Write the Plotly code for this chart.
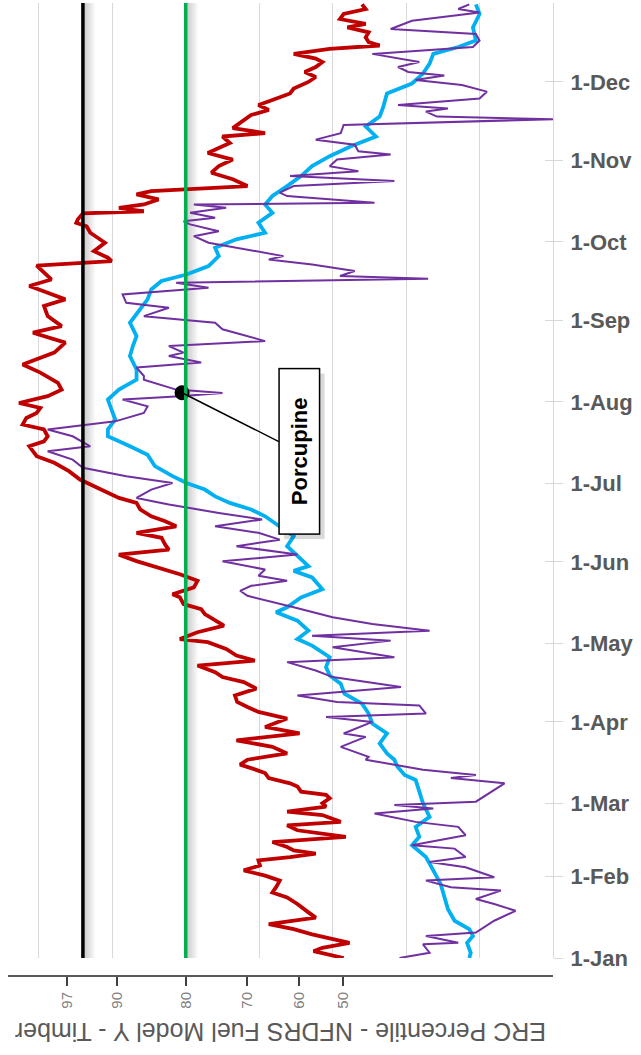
import pandas as pd
import plotly.graph_objects as go

# ---------------- data ----------------
BASE = pd.Timestamp("2021-01-01")

red_days = [0, 2.6, 3.9, 5.8, 9.0, 11.0, 12.9, 15.4, 17.4, 20.6, 23.1, 25.0, 27.0, 29.5, 31.4, 33.4, 35.3, 37.2,
            38.5, 39.8, 41.0, 42.3, 44.2, 46.2, 48.7, 50.6, 51.9, 54.5, 55.8, 57.7, 59.0, 60.9, 62.2, 63.4, 65.4,
            66.6, 68.6, 70.5, 72.4, 73.7, 75.6, 78.0, 80.5, 83.0, 85.6, 88.1, 91.3, 93.8, 95.7, 97.6, 100.1, 102.7,
            105.2, 107.1, 109.0, 111.5, 113.4, 115.3, 117.8, 120.4, 121.6, 124.2, 126.7, 128.6, 131.1, 133.0, 134.9,
            137.5, 138.7, 141.3, 143.8, 146.3, 148.7, 151.3, 153.8, 155.7, 157.6, 160.2, 162.1, 164.6, 166.5, 168.4,
            171.0, 173.5, 175.4, 178.0, 179.9, 182.4, 185.6, 188.8, 191.3, 193.2, 195.1, 197.0, 198.9, 201.5, 203.4,
            205.9, 207.8, 209.7, 211.6, 214.2, 216.7, 219.3, 223.2, 226.3, 230.8, 234.6, 238.4, 240.9, 244.7, 248.6,
            251.1, 253.6, 256.2, 258.7, 261.3, 264.0, 265.7, 267.0, 269.5, 272.7, 276.5, 279.0, 280.3, 281.6, 283.9,
            284.7, 286.0, 287.3, 289.2, 291.1, 292.4, 294.3, 296.9, 299.4, 301.9, 304.4, 306.9, 310.7, 313.2, 314.5,
            316.4, 318.3, 321.4, 323.3, 325.2, 327.1, 329.6, 331.5, 334.0, 335.9, 337.8, 339.7, 341.6, 342.9, 344.7,
            346.6, 347.9, 349.2, 351.0, 352.9, 354.8, 356.1, 358.0, 359.9, 361.8, 363.6]
red_erc = [28.5, 32.6, 31.4, 27.7, 32.8, 35.3, 38.7, 32.3, 33.3, 34.8, 36.2, 38.2, 37.7, 37.2, 39.2, 42.1, 39.9, 40.1,
           35.8, 32.3, 35.3, 36.2, 38.2, 28.2, 34.8, 36.2, 28.9, 31.4, 36.2, 30.9, 31.4, 30.4, 30.9, 34.3, 34.8,
           35.8, 38.7, 39.2, 41.1, 42.6, 41.6, 36.2, 38.2, 43.1, 34.5, 39.2, 36.2, 40.1, 41.6, 43.0, 43.3, 40.4,
           42.1, 45.0, 46.0, 48.4, 40.6, 43.1, 44.5, 47.0, 50.8, 48.4, 44.8, 46.0, 47.4, 47.9, 50.3,
           50.8, 51.8, 48.9, 48.4, 50.8, 53.7, 56.7, 59.1, 52.3, 52.8, 53.3, 56.7, 51.3, 52.8, 54.7,
           56.2, 56.7, 59.1, 61.0, 62.5, 64.4, 65.9, 67.9, 70.3, 70.8, 71.3, 69.3, 68.8, 69.3, 72.2,
           71.7, 70.3, 69.8, 72.7, 68.8, 66.9, 67.4, 69.8, 72.2, 67.9, 66.4, 70.8, 66.9, 68.8, 69.3,
           66.4, 68.8, 71.3, 68.3, 69.3, 70.3, 60.1, 60.6, 62.5, 61.0, 63.0, 63.5, 64.9, 64.7, 64.0,
           55.7, 59.1, 55.7, 53.7, 56.7, 54.7, 41.6, 43.6, 46.5, 45.5, 43.6, 47.0, 44.0, 45.0, 39.2,
           43.6, 42.6, 41.1, 38.7, 40.1, 38.2, 35.8, 35.3, 33.3, 32.3, 33.8, 32.3, 31.4, 32.3, 35.3,
           30.4, 23.6, 25.1, 25.5, 25.1, 28.0, 25.5, 29.0, 28.5, 25.5, 26.0]

cyan_days = [0, 2.0, 5.8, 8.4, 11.0, 14.2, 18.6, 23.1, 28.2, 33.4, 38.5, 43.0, 46.2, 50.0, 53.8, 59.0, 64.1, 67.9,
             69.8, 73.0, 75.6, 78.0, 81.8, 85.6, 89.4, 93.2, 97.0, 100.8, 104.6, 107.7, 110.9, 114.7, 119.1, 121.6,
             124.8, 128.6, 131.8, 133.7, 137.5, 140.6, 145.1, 147.6, 149.4, 153.2, 157.0, 160.8, 164.6, 168.4, 171.0,
             173.5, 176.0, 178.6, 181.1, 183.7, 187.5, 191.9, 195.1, 198.9, 201.5, 205.3, 209.1, 212.9, 216.7, 220.5,
             224.4, 229.5, 233.3, 237.1, 242.2, 247.3, 251.1, 254.9, 258.1, 260.6, 263.8, 267.6, 270.8, 274.0, 276.5,
             280.3, 284.1, 287.3, 290.5, 294.3, 298.1, 301.9, 305.7, 309.5, 313.2, 317.0, 320.8, 324.6, 329.6, 333.4,
             337.2, 341.0, 344.7, 347.3, 349.8, 354.8, 359.9, 363.6]
cyan_erc = [11.4, 11.2, 11.7, 10.9, 11.4, 13.4, 14.3, 14.8, 15.3, 16.3, 17.3, 19.2, 18.2, 18.7, 16.8, 17.7, 18.2, 18.7,
            20.2, 21.2, 21.6, 22.6, 23.6, 22.6, 24.6, 25.1, 26.0, 28.4, 28.9, 30.4, 30.9, 30.4, 32.8, 34.8,
            33.3, 34.8, 37.7, 36.2, 34.3, 31.4, 32.8, 35.3, 33.3, 34.8, 36.2, 35.3, 37.2, 39.2, 41.1,
            44.0, 46.0, 47.4, 49.9, 51.8, 54.2, 55.2, 57.6, 60.6, 60.6, 59.6, 60.1, 60.6, 59.1, 56.7,
            56.7, 57.6, 57.2, 56.7, 57.6, 56.2, 55.2, 54.7, 53.3, 49.9, 46.9, 45.5, 46.0, 43.1, 39.2,
            40.1, 38.2, 39.2, 38.2, 36.2, 34.3, 32.8, 30.4, 27.5, 24.1, 25.5, 23.6, 23.1, 22.6, 19.2,
            17.7, 16.8, 16.3, 12.9, 10.5, 10.9, 10.0, 10.5]

purple_days = [0, 2.0, 5.2, 5.8, 8.4, 9.7, 14.2, 18.0, 20.6, 22.5, 25.7, 27.0, 29.5, 30.8, 34.6, 36.6, 38.5, 41.7,
               43.0, 46.8, 50.0, 51.9, 55.1, 57.0, 58.3, 59.6, 66.6, 68.6, 69.8, 71.8, 75.6, 76.7, 80.5, 84.3, 85.6,
               90.0, 91.9, 93.2, 96.3, 97.6, 100.1, 103.3, 107.1, 109.6, 112.8, 114.7, 118.5, 121.0, 122.9, 124.8,
               127.3, 129.9, 133.7, 136.2, 138.1, 140.0, 141.9, 143.8, 145.7, 148.1, 151.3, 153.8, 157.0, 159.5,
               162.1, 164.6, 167.2, 169.7, 172.9, 175.4, 178.6, 181.1, 183.7, 186.9, 190.0, 193.2, 195.1, 198.9,
               201.5, 204.6, 207.8, 210.3, 212.9, 214.2, 215.4, 216.7, 220.5, 221.9, 225.1, 227.0, 229.5, 230.8,
               233.3, 235.2, 237.1, 239.7, 242.2, 244.7, 247.9, 249.8, 253.0, 255.5, 257.4, 259.0, 260.0, 261.9,
               264.4, 266.3, 267.6, 270.1, 272.7, 275.2, 277.1, 279.7, 280.9, 282.2, 284.1, 286.0, 287.3, 287.9,
               290.5, 291.8, 294.3, 296.2, 298.1, 300.0, 301.9, 304.4, 306.3, 307.6, 310.1, 312.0, 314.5, 317.6,
               319.8, 320.8, 322.7, 323.9, 325.2, 327.7, 330.3, 332.8, 334.7, 336.5, 337.8, 339.7, 341.6, 344.7,
               347.3, 349.8, 352.3, 354.2, 357.3, 360.5, 361.8, 363.6]
purple_erc = [20.9, 16.8, 17.7, 12.9, 17.3, 10.5, 8.0, 5.1, 8.0, 10.5, 7.1, 13.9, 17.3, 8.0, 11.9, 16.8, 11.9, 13.4,
              19.2, 11.9, 12.9, 18.7, 24.3, 16.3, 21.6, 10.5, 6.6, 13.9, 10.5, 17.7, 25.5, 25.1, 28.9, 25.5, 28.5,
              24.6, 30.9, 17.3, 18.2, 29.4, 34.8, 20.7, 30.0, 32.3, 36.2, 21.6, 30.0, 22.1, 32.8, 16.8,
              24.6, 30.0, 35.3, 38.7, 41.6, 42.6, 41.1, 36.2, 40.1, 39.2, 45.0, 34.8, 43.1, 37.2,
              40.1, 46.0, 39.6, 45.5, 52.3, 56.7, 54.7, 51.8, 58.1, 64.0, 65.4, 68.8, 63.0, 65.4,
              68.8, 59.6, 55.7, 55.2, 58.6, 50.8, 45.0, 51.3, 55.7, 55.7, 56.7, 47.9, 52.3, 50.3,
              52.3, 39.2, 41.6, 45.0, 46.0, 55.7, 52.3, 58.1, 58.6, 46.9, 51.3, 17.0, 29.0, 27.0,
              32.8, 38.7, 36.7, 41.6, 46.9, 48.9, 45.5, 49.4, 50.3, 46.0, 49.4, 44.5, 48.9, 24.3,
              36.2, 37.2, 35.3, 21.6, 35.8, 26.5, 30.4, 29.4, 22.1, 26.5, 27.0, 32.3, 28.9, 28.5,
              0.0, 15.8, 17.3, 14.3, 21.1, 10.0, 9.0, 12.4, 18.7, 14.8, 19.7, 21.1, 18.2, 24.6,
              10.9, 10.0, 10.5, 22.1, 19.2, 10.0, 12.9, 11.4]

# reference lines (ERC) and percentile axis
erc_97th = 64.0
erc_80th = 50.0
pct_labels = ["97", "90", "80", "70", "60", "50"]
pct_erc = [66.2, 59.4, 50.0, 41.6, 34.6, 28.6]

fire_name = "Porcupine"
fire_day = 215.5
fire_erc = 50.5

month_starts = pd.date_range("2021-01-01", "2021-12-01", freq="MS")


def to_dates(days):
    return [BASE + pd.Timedelta(days=d) for d in days]


# ---------------- figure ----------------
X_RANGE = [74.2, 0]
Y_RANGE = [BASE, BASE + pd.Timedelta(days=364.1)]
PX_PER_ERC = 545 / 74.2

fig = go.Figure()

fig.add_trace(go.Scatter(x=cyan_erc, y=to_dates(cyan_days), mode="lines",
                         line=dict(color="#00b0f0", width=3.8), showlegend=False, hoverinfo="skip"))
fig.add_trace(go.Scatter(x=red_erc, y=to_dates(red_days), mode="lines",
                         line=dict(color="#c00000", width=3.8), showlegend=False, hoverinfo="skip"))
fig.add_trace(go.Scatter(x=purple_erc, y=to_dates(purple_days), mode="lines",
                         line=dict(color="#7030a0", width=2), showlegend=False, hoverinfo="skip"))
fig.add_trace(go.Scatter(x=[fire_erc], y=to_dates([fire_day]), mode="markers",
                         marker=dict(color="black", size=15), showlegend=False, hoverinfo="skip"))
# helper traces so the extra axes get drawn
fig.add_trace(go.Scatter(x=[None], y=[None], xaxis="x2", yaxis="y", showlegend=False, hoverinfo="skip"))
fig.add_trace(go.Scatter(x=[None], y=[None], xaxis="x", yaxis="y2", showlegend=False, hoverinfo="skip"))

shapes = []
for val, col in [(erc_97th, "black"), (erc_80th, "#00b050")]:
    for k in range(6):
        w = (2 + 2 * k) / PX_PER_ERC
        shapes.append(dict(type="rect", xref="x", yref="y domain", x0=val, x1=val - w, y0=0, y1=1,
                           fillcolor="rgba(0,0,0,0.035)", line=dict(width=0), layer="below"))
    shapes.append(dict(type="line", xref="x", yref="y domain", x0=val, x1=val, y0=0, y1=1,
                       line=dict(color=col, width=3.5), layer="above"))

annotations = [
    dict(x=fire_erc, y=BASE + pd.Timedelta(days=fire_day), xref="x", yref="y",
         ax=122, ay=64, text="<b>" + fire_name + "</b>", textangle=-90,
         font=dict(size=22, color="rgba(0,0,0,0)", family="Liberation Sans"),
         bgcolor="rgba(0,0,0,0.15)", bordercolor="rgba(0,0,0,0)", borderwidth=1.5,
         width=162, height=37, showarrow=True, arrowcolor="rgba(0,0,0,0)", arrowhead=0),
    dict(x=fire_erc, y=BASE + pd.Timedelta(days=fire_day), xref="x", yref="y",
         ax=117, ay=59, text="<b>" + fire_name + "</b>", textangle=-90,
         font=dict(size=22, color="black", family="Liberation Sans"),
         bgcolor="white", bordercolor="black", borderwidth=1.5,
         width=162, height=37, showarrow=True, arrowcolor="black", arrowhead=0, arrowwidth=1.5,
         standoff=0, startstandoff=0),
    dict(x=0.5, y=-0.0373, xref="paper", yref="paper", showarrow=False,
         text="ERC Percentile - NFDRS Fuel Model Y - Timber", textangle=180,
         font=dict(size=25, color="#595959", family="Liberation Sans"),
         xanchor="center", yanchor="middle"),
]

fig.update_layout(
    width=641, height=1055,
    margin=dict(l=8, r=88, t=3, b=60),
    paper_bgcolor="white", plot_bgcolor="white",
    font=dict(family="Liberation Sans"),
    showlegend=False,
    xaxis=dict(range=X_RANGE, tickvals=list(range(0, 80, 10)), showgrid=True, gridcolor="#d9d9d9",
               gridwidth=1, showticklabels=False, ticks="", zeroline=False, showline=False),
    xaxis2=dict(overlaying="x", matches="x", anchor="free", position=0.0192, side="bottom",
                tickvals=pct_erc, ticktext=pct_labels, tickangle=-90, ticks="outside", ticklen=9,
                tickwidth=1.5, tickcolor="#404040", showline=True, linecolor="#595959", linewidth=2,
                showgrid=False, zeroline=False, tickfont=dict(size=15, color="#7f7f7f")),
    yaxis=dict(type="date", range=Y_RANGE, domain=[0.0373, 1], side="right", tickvals=month_starts,
               tickformat="%-d-%b", showgrid=False, zeroline=False, showline=True, linecolor="#d9d9d9",
               linewidth=1, ticks="outside", ticklen=9, tickcolor="#d9d9d9", ticklabelstandoff=3,
               tickfont=dict(size=22, color="#595959", weight="bold")),
    yaxis2=dict(type="date", overlaying="y", matches="y", side="right", tickvals=month_starts,
                showticklabels=False, ticks="inside", ticklen=8, tickcolor="#d9d9d9",
                showgrid=False, zeroline=False, showline=False),
    shapes=shapes,
    annotations=annotations,
)

fig.write_html("out.html", config={"displayModeBar": False},
               post_script="document.body.style.margin='0';document.body.style.overflow='hidden';")
